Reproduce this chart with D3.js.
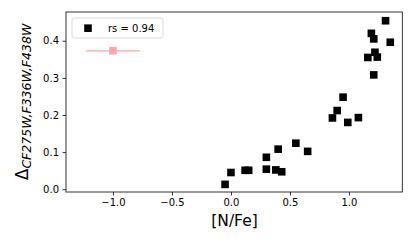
<!DOCTYPE html>
<html>
<head>
<meta charset="utf-8">
<script src="https://cdn.jsdelivr.net/npm/d3@7"></script>
<style>
  body { margin: 0; background: #fff; }
  text { font-family: "DejaVu Sans", sans-serif; }
</style>
</head>
<body>
<svg class="chart"></svg>
<script>
// star values
var nfe = [-0.05, 0.00, 0.12, 0.15, 0.30, 0.30, 0.40, 0.38, 0.43, 0.55, 0.65,
           1.31, 1.19, 1.21, 1.35, 1.16, 1.22, 1.24, 1.21, 0.95, 0.90, 0.86, 0.99, 1.08];
var dcf = [0.013, 0.045, 0.051, 0.051, 0.086, 0.054, 0.108, 0.052, 0.047, 0.124, 0.102,
           0.454, 0.420, 0.405, 0.396, 0.355, 0.369, 0.356, 0.308, 0.248, 0.212, 0.192, 0.180, 0.193];

// typical error point
var errX = [-1.0];
var errY = [0.373];
var errXw = [0.23];

var xTicks = [-1.0, -0.5, 0.0, 0.5, 1.0];
var yTicks = [0.0, 0.1, 0.2, 0.3, 0.4];
var legendText = 'rs = 0.94';

var svgwidth = 415, svgheight = 249;
var margins = { top: 12, bottom: 57, left: 66, right: 12.7 };
var width = svgwidth - margins.left - margins.right;
var height = svgheight - margins.top - margins.bottom;

var svg = d3.select('.chart').attr('width', svgwidth).attr('height', svgheight);

var xscale = d3.scaleLinear().domain([-1.398, 1.452]).range([0, width]);
var yscale = d3.scaleLinear().domain([-0.0075, 0.4775]).range([height, 0]);

var plot = svg.append('g')
  .attr('transform', 'translate(' + margins.left + ',' + margins.top + ')');

var fmt = function(d) { return d3.format('.1f')(d).replace('-', '\u2212'); };

var xaxis = plot.append('g')
  .attr('transform', 'translate(0,' + height + ')')
  .call(d3.axisBottom(xscale).tickValues(xTicks).tickFormat(fmt).tickSize(3.5).tickPadding(3.5));
var yaxis = plot.append('g')
  .call(d3.axisLeft(yscale).tickValues(yTicks).tickFormat(fmt).tickSize(3.5).tickPadding(3.5));

[xaxis, yaxis].forEach(function(ax) {
  ax.select('.domain').remove();
  ax.selectAll('text').style('font-size', '10px').attr('fill', '#000');
  ax.selectAll('line').attr('stroke', '#000').attr('stroke-width', 0.8);
});

// frame
plot.append('rect')
  .attr('x', 0).attr('y', 0).attr('width', width).attr('height', height)
  .attr('fill', 'none').attr('stroke', '#000').attr('stroke-width', 0.8);

// error point
plot.selectAll('.errbar').data(errX).enter().append('line')
  .attr('x1', function(d, i) { return xscale(d - errXw[i]); })
  .attr('x2', function(d, i) { return xscale(d + errXw[i]); })
  .attr('y1', function(d, i) { return yscale(errY[i]); })
  .attr('y2', function(d, i) { return yscale(errY[i]); })
  .attr('stroke', '#f7aaaa').attr('stroke-width', 1.3);
plot.selectAll('.errpt').data(errX).enter().append('rect')
  .attr('x', function(d) { return xscale(d) - 3.8; })
  .attr('y', function(d, i) { return yscale(errY[i]) - 3.8; })
  .attr('width', 7.6).attr('height', 7.6)
  .attr('fill', '#f7aaaa');

// stars
var ms = 7.6;
plot.selectAll('.pt').data(nfe).enter().append('rect')
  .attr('x', function(d) { return xscale(d) - ms / 2; })
  .attr('y', function(d, i) { return yscale(dcf[i]) - ms / 2; })
  .attr('width', ms).attr('height', ms)
  .attr('fill', '#000');

// legend
var leg = plot.append('g').attr('transform', 'translate(6,6)');
leg.append('rect')
  .attr('x', 0).attr('y', 0).attr('width', 91).attr('height', 20).attr('rx', 2.5)
  .attr('fill', '#fff').attr('fill-opacity', 0.8)
  .attr('stroke', '#d0d0d0').attr('stroke-width', 0.8);
leg.append('rect')
  .attr('x', 16 - ms / 2).attr('y', 10.2 - ms / 2).attr('width', ms).attr('height', ms)
  .attr('fill', '#000');
leg.append('text')
  .attr('x', 36).attr('y', 14)
  .style('font-size', '10px')
  .text(legendText);

// axis labels
svg.append('text')
  .attr('x', margins.left + xscale(0.03)).attr('y', 226)
  .attr('text-anchor', 'middle')
  .style('font-size', '15.5px')
  .text('[N/Fe]');

var ylab = svg.append('text')
  .attr('transform', 'translate(28,' + (margins.top + height / 2) + ') rotate(-90)')
  .attr('text-anchor', 'middle');
ylab.append('tspan').style('font-size', '17px').text('\u0394');
ylab.append('tspan').attr('dy', 3).style('font-size', '12.5px').style('font-style', 'italic')
  .text('CF275W,F336W,F438W');
</script>
</body>
</html>
